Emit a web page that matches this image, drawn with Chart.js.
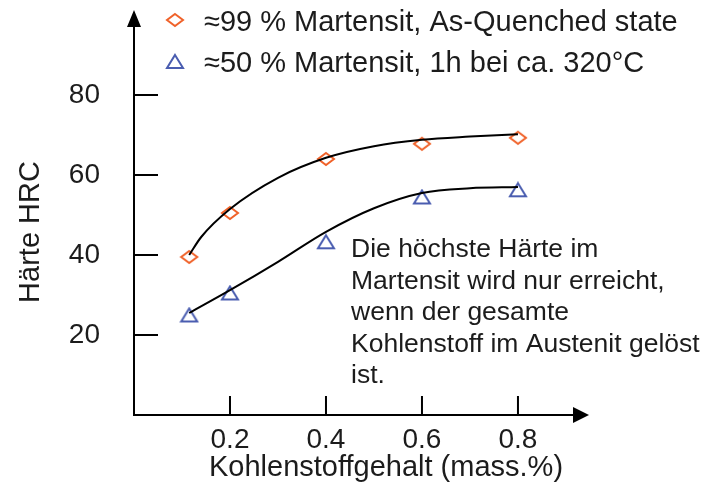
<!DOCTYPE html>
<html>
<head>
<meta charset="utf-8">
<title>Härte HRC</title>
<script src="https://cdn.jsdelivr.net/npm/chart.js@4.4.1/dist/chart.umd.min.js"></script>
<style>
html,body{margin:0;padding:0;background:#fff}
</style>
</head>
<body>
<canvas id="hardness_chart" width="705" height="486"></canvas>
<script>
// data
var seriesLabels = ["≈99 % Martensit, As-Quenched state", "≈50 % Martensit, 1h bei ca. 320°C"];
var xQuenched = [0.115, 0.2, 0.4, 0.6, 0.8];
var hrcQuenched = [39.5, 50.5, 64, 67.8, 69.3];
var xTempered = [0.115, 0.2, 0.4, 0.6, 0.8];
var hrcTempered = [25, 30.5, 43.3, 54.5, 56.3];
// hand drawn trend curves
var fitQuenchedX = [0.115, 0.14, 0.2, 0.3, 0.4, 0.5, 0.6, 0.7, 0.8];
var fitQuenched = [40, 44.5, 51.5, 59.3, 64.3, 67.2, 68.8, 69.6, 70.2];
var fitTemperedX = [0.115, 0.2, 0.3, 0.4, 0.5, 0.6, 0.7, 0.8];
var fitTempered = [25.5, 31.2, 38.3, 45.8, 51.7, 55.5, 56.7, 57];
var xTicks = [0.2, 0.4, 0.6, 0.8];
var yTicks = [20, 40, 60, 80];
var xTitle = "Kohlenstoffgehalt (mass.%)";
var yTitle = "Härte HRC";
var noteLines = ["Die höchste Härte im", "Martensit wird nur erreicht,", "wenn der gesamte", "Kohlenstoff im Austenit gelöst", "ist."];

var FONT = "'Liberation Sans', Arial, sans-serif";
var TEXT = "#1c1c1c";
var ORANGE = "#f0622a";
var BLUE = "#4a5db0";

function pairs(xs, ys) {
    return xs.map(function (x, i) { return {x: x, y: ys[i]}; });
}

function makeMarker(kind, color) {
    var c = document.createElement("canvas");
    var g = c.getContext("2d");
    c.width = 20;
    c.height = kind == "diamond" ? 16 : 17;
    g.strokeStyle = color;
    g.lineWidth = 2;
    g.beginPath();
    if (kind == "diamond") {
        g.moveTo(10, 2); g.lineTo(18, 8); g.lineTo(10, 14); g.lineTo(2, 8);
    } else {
        g.moveTo(10, 2); g.lineTo(18, 15); g.lineTo(2, 15);
    }
    g.closePath();
    g.stroke();
    return c;
}
var diamondImg = makeMarker("diamond", ORANGE);
var triangleImg = makeMarker("triangle", BLUE);

// axes with arrows, inner ticks, titles, legend and note
var decorations = {
    id: "decorations",
    afterDraw: function (chart) {
        var ctx = chart.ctx;
        var xs = chart.scales.x, ys = chart.scales.y;
        var x0 = xs.getPixelForValue(0), y0 = ys.getPixelForValue(0);
        var xEnd = xs.getPixelForValue(xs.max), yEnd = ys.getPixelForValue(ys.max);
        ctx.save();
        ctx.strokeStyle = "#000";
        ctx.fillStyle = "#000";
        ctx.lineWidth = 2;
        ctx.beginPath();
        ctx.moveTo(x0, y0 + 1); ctx.lineTo(x0, yEnd + 12);
        ctx.moveTo(x0 - 1, y0); ctx.lineTo(xEnd - 12, y0);
        yTicks.forEach(function (v) {
            var p = ys.getPixelForValue(v);
            ctx.moveTo(x0, p); ctx.lineTo(x0 + 24, p);
        });
        xTicks.forEach(function (v) {
            var p = xs.getPixelForValue(v);
            ctx.moveTo(p, y0); ctx.lineTo(p, y0 - 19);
        });
        ctx.stroke();
        ctx.beginPath();
        ctx.moveTo(x0, yEnd); ctx.lineTo(x0 - 7, yEnd + 17); ctx.lineTo(x0 + 7, yEnd + 17);
        ctx.closePath();
        ctx.moveTo(xEnd, y0); ctx.lineTo(xEnd - 16, y0 - 8); ctx.lineTo(xEnd - 16, y0 + 8);
        ctx.closePath();
        ctx.fill();

        ctx.fillStyle = TEXT;
        ctx.textBaseline = "middle";
        ctx.textAlign = "left";
        ctx.font = "29px " + FONT;
        ctx.drawImage(diamondImg, 175 - 10, 20 - 8);
        ctx.fillText(seriesLabels[0], 204, 23);
        ctx.drawImage(triangleImg, 175 - 10, 61 - 8);
        ctx.fillText(seriesLabels[1], 204, 64);

        ctx.textAlign = "center";
        ctx.fillText(xTitle, 386, 468);
        ctx.save();
        ctx.translate(31, 232);
        ctx.rotate(-Math.PI / 2);
        ctx.fillText(yTitle, 0, 0);
        ctx.restore();

        ctx.textAlign = "left";
        ctx.font = "26.5px " + FONT;
        noteLines.forEach(function (t, i) {
            ctx.fillText(t, 351, 250 + i * 31.5);
        });
        ctx.restore();
    }
};

new Chart(document.getElementById("hardness_chart"), {
    type: "scatter",
    data: {
        datasets: [{
            label: "fit99",
            data: pairs(fitQuenchedX, fitQuenched),
            showLine: true,
            borderColor: "#000",
            borderWidth: 2,
            pointRadius: 0,
            cubicInterpolationMode: "monotone"
        }, {
            label: "fit50",
            data: pairs(fitTemperedX, fitTempered),
            showLine: true,
            borderColor: "#000",
            borderWidth: 2,
            pointRadius: 0,
            cubicInterpolationMode: "monotone"
        }, {
            label: seriesLabels[0],
            data: pairs(xQuenched, hrcQuenched),
            pointStyle: diamondImg,
            pointRadius: 8
        }, {
            label: seriesLabels[1],
            data: pairs(xTempered, hrcTempered),
            pointStyle: triangleImg,
            pointRadius: 8
        }]
    },
    options: {
        responsive: false,
        animation: false,
        devicePixelRatio: 1,
        layout: {padding: {top: 10, right: 116, left: 0, bottom: 0}},
        plugins: {legend: {display: false}, tooltip: {enabled: false}},
        scales: {
            x: {
                type: "linear",
                min: 0,
                max: 0.948,
                grid: {display: false, drawTicks: false, tickLength: 0},
                border: {display: false},
                afterBuildTicks: function (s) { s.ticks = xTicks.map(function (v) { return {value: v}; }); },
                afterFit: function (s) { s.height = 71; s.paddingLeft = 0; s.paddingRight = 0; },
                ticks: {color: TEXT, font: {family: FONT, size: 28}, padding: 8,
                    callback: function (v) { return v.toFixed(1); }}
            },
            y: {
                min: 0,
                max: 101.25,
                grid: {display: false, drawTicks: false, tickLength: 0},
                border: {display: false},
                afterBuildTicks: function (s) { s.ticks = yTicks.map(function (v) { return {value: v}; }); },
                afterFit: function (s) { s.width = 134; s.paddingTop = 0; s.paddingBottom = 0; },
                ticks: {color: TEXT, font: {family: FONT, size: 28}, padding: 34}
            }
        }
    },
    plugins: [decorations]
});
</script>
</body>
</html>
